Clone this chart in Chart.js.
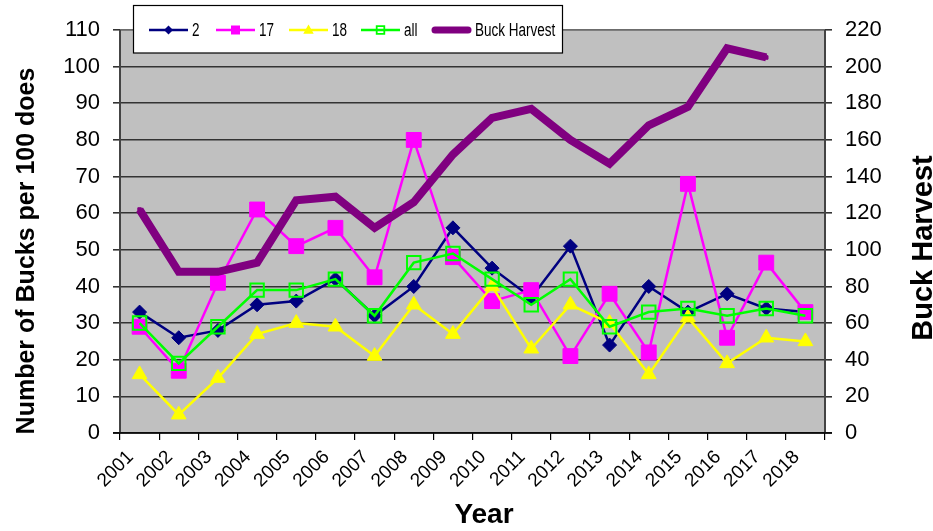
<!DOCTYPE html>
<html><head><meta charset="utf-8">
<script src="https://cdn.jsdelivr.net/npm/chart.js@4"></script>
<style>html,body{margin:0;padding:0;background:#fff}#wrap{width:933px;height:531px}</style>
</head><body><div id="wrap"><canvas id="c" width="933" height="531"></canvas></div>
<script>
const years = ['2001','2002','2003','2004','2005','2006','2007','2008','2009','2010','2011','2012','2013','2014','2015','2016','2017','2018'];
const unit2 = [33,26,28,35,36,42,32,40,56,45,37,51,24,40,33,38,34,33];
const unit17 = [29,17,41,61,51,56,42.5,80,48,36,39,21,38,22,68,26,46.5,33];
const unit18 = [16,5,15,27,30,29,21,35,27,40,23,35,30,16,31.5,19,26,25];
const unitAll = [30,19,29,39,39,42,32,46.5,49,42,35,42,29,33,34,32,34,32];
const buckHarvest = [122,88,88,93,127,129,112,126,152,172,177,160,147,168,178,210,205,null];
const seriesNames = ['2','17','18','all','Buck Harvest'];
const leftAxis = {min:0, max:110, step:10};
const rightAxis = {min:0, max:220, step:20};
const titles = {left:'Number of Bucks per 100 does', right:'Buck Harvest', x:'Year'};

const FONT = "'Liberation Sans', Arial, sans-serif";

const bgPlugin = {
  id: 'bg',
  beforeDraw(chart) {
    const {ctx, chartArea: a} = chart;
    ctx.save();
    ctx.fillStyle = '#fff';
    ctx.fillRect(0, 0, chart.width, chart.height);
    ctx.fillStyle = '#C0C0C0';
    ctx.fillRect(a.left, a.top, a.right - a.left, a.bottom - a.top);
    ctx.restore();
  },
  beforeDatasetsDraw(chart) {
    const {ctx, chartArea: a} = chart;
    ctx.save();
    ctx.strokeStyle = '#808080';
    ctx.lineWidth = 1.5;
    ctx.beginPath();
    ctx.moveTo(a.left, a.top); ctx.lineTo(a.right, a.top);
    ctx.stroke();
    ctx.strokeStyle = '#444';
    ctx.lineWidth = 2;
    ctx.beginPath();
    ctx.moveTo(a.left, a.top); ctx.lineTo(a.left, a.bottom);
    ctx.moveTo(a.right, a.top); ctx.lineTo(a.right, a.bottom);
    ctx.stroke();
    ctx.strokeStyle = '#000';
    ctx.lineWidth = 1.5;
    ctx.beginPath();
    ctx.moveTo(a.left - 7, a.bottom); ctx.lineTo(a.right + 7, a.bottom);
    ctx.stroke();
    ctx.restore();
  }
};

function drawMarker(ctx, style, x, y, r, fill, stroke, lw) {
  ctx.save();
  ctx.beginPath();
  if (style === 'diamond') {
    ctx.moveTo(x, y - r); ctx.lineTo(x + r, y); ctx.lineTo(x, y + r); ctx.lineTo(x - r, y); ctx.closePath();
  } else if (style === 'rect') {
    ctx.rect(x - r, y - r, 2 * r, 2 * r);
  } else if (style === 'triangle') {
    ctx.moveTo(x, y - r); ctx.lineTo(x + r * 0.95, y + r * 0.7); ctx.lineTo(x - r * 0.95, y + r * 0.7); ctx.closePath();
  }
  if (fill) { ctx.fillStyle = fill; ctx.fill(); }
  if (stroke) { ctx.strokeStyle = stroke; ctx.lineWidth = lw; ctx.stroke(); }
  ctx.restore();
}

const overlayPlugin = {
  id: 'overlay',
  afterDraw(chart) {
    const ctx = chart.ctx;
    ctx.save();
    // legend box
    ctx.fillStyle = '#fff';
    ctx.fillRect(133, 5, 429, 48);
    ctx.strokeStyle = '#000';
    ctx.lineWidth = 1.2;
    ctx.strokeRect(133.5, 5.5, 429, 47.5);
    const starts = [149, 216, 289, 361, 432];
    const ly = 30;
    ctx.font = "18px " + FONT;
    ctx.textBaseline = 'middle';
    ctx.textAlign = 'left';
    chart.data.datasets.forEach((ds, i) => {
      const x0 = starts[i], x1 = x0 + 39;
      ctx.strokeStyle = ds.borderColor;
      ctx.lineWidth = i === 4 ? 7 : 2.5;
      ctx.lineCap = i === 4 ? 'round' : 'butt';
      ctx.beginPath(); ctx.moveTo(x0 + (i === 4 ? 3 : 0), ly); ctx.lineTo(x1 - (i === 4 ? 3 : 0), ly); ctx.stroke();
      const cx = (x0 + x1) / 2;
      if (i === 0) drawMarker(ctx, 'diamond', cx, ly, 4.5, ds.borderColor);
      if (i === 1) drawMarker(ctx, 'rect', cx, ly, 4.5, ds.borderColor);
      if (i === 2) drawMarker(ctx, 'triangle', cx, ly, 5.5, ds.borderColor);
      if (i === 3) drawMarker(ctx, 'rect', cx, ly, 3.8, null, ds.borderColor, 1.8);
      ctx.fillStyle = '#000';
      ctx.save();
      ctx.translate(x1 + 4, ly + 1);
      ctx.scale(0.75, 1);
      ctx.fillText(ds.label, 0, 0);
      ctx.restore();
    });
    // axis titles
    ctx.fillStyle = '#000';
    ctx.textAlign = 'center';
    ctx.textBaseline = 'alphabetic';
    ctx.font = "bold 25px " + FONT;
    ctx.save(); ctx.translate(34, 251); ctx.rotate(-Math.PI / 2); ctx.fillText(titles.left, 0, 0); ctx.restore();
    ctx.font = "bold 29px " + FONT;
    ctx.save(); ctx.translate(932, 248); ctx.rotate(-Math.PI / 2); ctx.fillText(titles.right, 0, 0); ctx.restore();
    ctx.font = "bold 28px " + FONT;
    ctx.fillText(titles.x, 484, 523);
    ctx.restore();
  }
};

const lineDs = (label, data, color, style, radius, order, extra) => Object.assign({
  label, data, borderColor: color, backgroundColor: color,
  pointBackgroundColor: color, pointBorderColor: color,
  pointStyle: style, pointRadius: radius, pointHoverRadius: radius,
  borderWidth: 2.5, pointBorderWidth: 1, tension: 0, order, yAxisID: 'y'
}, extra || {});

new Chart(document.getElementById('c'), {
  type: 'line',
  data: {
    labels: years,
    datasets: [
      lineDs(seriesNames[0], unit2, '#000080', 'rectRot', 7, 5),
      lineDs(seriesNames[1], unit17, '#FF00FF', 'rect', 10.5, 4),
      lineDs(seriesNames[2], unit18, '#FFFF00', 'triangle', 8.5, 3),
      lineDs(seriesNames[3], unitAll, '#00FF00', 'rect', 9.5, 2, {pointBackgroundColor: 'rgba(0,0,0,0)', pointBorderWidth: 2}),
      lineDs(seriesNames[4], buckHarvest, '#800080', 'rect', 2.5, 1, {borderWidth: 8, yAxisID: 'y1', borderJoinStyle: 'miter'})
    ]
  },
  options: {
    responsive: false,
    animation: false,
    devicePixelRatio: 1,
    layout: {padding: {top: 30, left: 0, right: 0, bottom: 0}},
    plugins: {legend: {display: false}, tooltip: {enabled: false}, title: {display: false}},
    scales: {
      x: {
        type: 'category', offset: true,
        grid: {offset: true, drawOnChartArea: false, drawTicks: true, tickLength: 7, color: '#000', lineWidth: 1.2},
        border: {display: false},
        ticks: {autoSkip: false, minRotation: 45, maxRotation: 45, color: '#000', font: {family: FONT, size: 19}, padding: 6, labelOffset: -9},
        afterFit(s) { s.height = 98; }
      },
      y: {
        position: 'left', min: leftAxis.min, max: leftAxis.max,
        grid: {color: '#333', lineWidth: 1.6, tickLength: 7, drawTicks: true},
        border: {display: false},
        ticks: {stepSize: leftAxis.step, color: '#000', font: {family: FONT, size: 22}, padding: 13},
        afterFit(s) { s.width = 120; }
      },
      y1: {
        position: 'right', min: rightAxis.min, max: rightAxis.max,
        grid: {drawOnChartArea: false, color: '#333', lineWidth: 1.6, tickLength: 7, drawTicks: true},
        border: {display: false},
        ticks: {stepSize: rightAxis.step, color: '#000', font: {family: FONT, size: 22}, padding: 13},
        afterFit(s) { s.width = 108; }
      }
    }
  },
  plugins: [bgPlugin, overlayPlugin]
});
</script></body></html>
